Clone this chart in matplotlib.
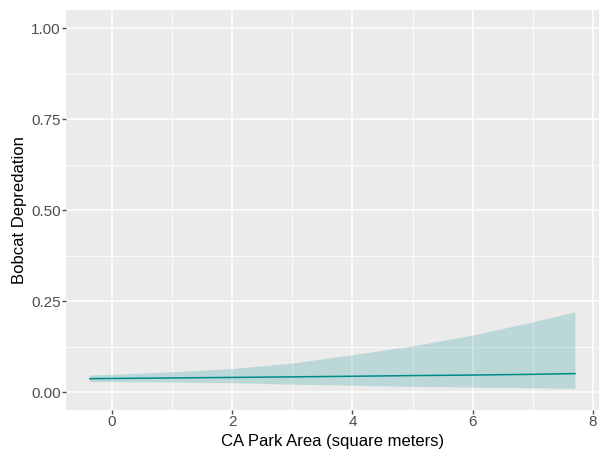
import matplotlib
matplotlib.use("Agg")
import matplotlib.pyplot as plt
import numpy as np

# Data
park_area = [-0.37, 0, 1, 2, 3, 4, 5, 6, 7, 7.7]
pred = [0.037, 0.0376, 0.039, 0.0405, 0.042, 0.0437, 0.0455, 0.047, 0.049, 0.051]
upper = [0.047, 0.049, 0.056, 0.065, 0.080, 0.103, 0.127, 0.157, 0.193, 0.221]
lower = [0.029, 0.029, 0.028, 0.026, 0.022, 0.019, 0.016, 0.014, 0.012, 0.010]

x_ticks = [0, 2, 4, 6, 8]
y_ticks = [0.00, 0.25, 0.50, 0.75, 1.00]
y_ticklabels = ["0.00", "0.25", "0.50", "0.75", "1.00"]

plt.rcParams['font.family'] = ['Liberation Sans', 'DejaVu Sans']

fig = plt.figure(figsize=(6.08, 4.53), dpi=100)
ax = fig.add_axes([66/608, 43/453, (599-66)/608, (410-10)/453])
ax.set_facecolor('#EBEBEB')
for s in ax.spines.values():
    s.set_visible(False)

ax.set_xlim(-0.765, 8.10)
ax.set_ylim(-0.049, 1.0495)

# grid
for v in [1, 3, 5, 7]:
    ax.axvline(v, color='white', lw=0.55, zorder=0.5)
for v in [0.125, 0.375, 0.625, 0.875]:
    ax.axhline(v, color='white', lw=0.55, zorder=0.5)
for v in x_ticks:
    ax.axvline(v, color='white', lw=1.1, zorder=0.6)
for v in y_ticks:
    ax.axhline(v, color='white', lw=1.1, zorder=0.6)

ax.fill_between(park_area, lower, upper, color='#008B8B', alpha=0.2, lw=0, zorder=2)
ax.plot(park_area, pred, color='#008B8B', lw=1.1, zorder=3)

ax.set_xticks(x_ticks)
ax.set_xticklabels([str(t) for t in x_ticks])
ax.set_yticks(y_ticks)
ax.set_yticklabels(y_ticklabels)
ax.tick_params(axis='both', colors='#4D4D4D', labelsize=11, length=2.9, width=1, pad=1)
for lab in ax.get_xticklabels() + ax.get_yticklabels():
    lab.set_color('#4D4D4D')

ax.set_xlabel('CA Park Area (square meters)', fontsize=12, color='black', labelpad=3)
ax.set_ylabel('Bobcat Depredation', fontsize=12, color='black', labelpad=3)

fig.savefig('out.png', dpi=100)
